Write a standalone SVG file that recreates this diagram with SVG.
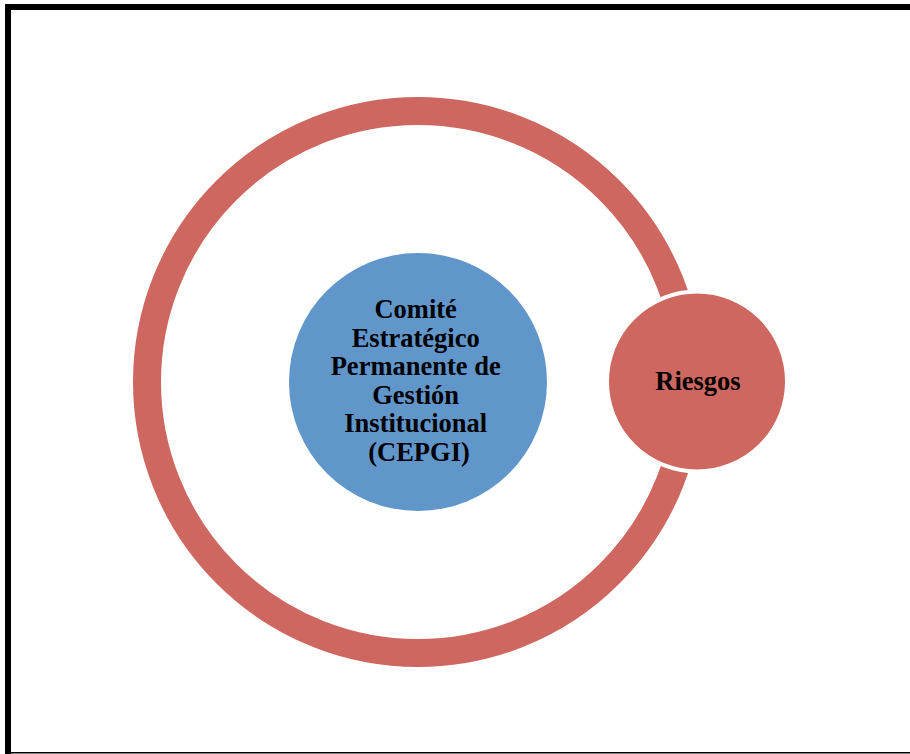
<svg xmlns="http://www.w3.org/2000/svg" width="910" height="754" viewBox="0 0 910 754">
  <style>
    .label { font-family: "Liberation Serif", "Times New Roman", serif; font-weight: bold; font-size: 26.5px; fill: #000; text-anchor: middle; }
  </style>
  <rect x="0" y="0" width="910" height="754" fill="#fff"/>
  <!-- page frame -->
  <g id="frame">
    <rect x="5" y="4" width="905" height="6" fill="#000"/>
    <rect x="5" y="4" width="6" height="750" fill="#000"/>
    <rect x="5" y="752" width="905" height="1.5" fill="#000"/>
  </g>
  <!-- cycle ring -->
  <g id="connectors">
    <circle cx="418" cy="382" r="271" fill="none" stroke="#CD675F" stroke-width="28"/>
  </g>
  <g id="cepgi">
    <circle cx="418" cy="382" r="129" fill="#6096CA"/>
    <text class="label">
      <tspan x="419" y="318">Comité</tspan>
      <tspan x="419" y="346.5">Estratégico</tspan>
      <tspan x="419" y="375">Permanente de</tspan>
      <tspan x="419" y="403.5">Gestión</tspan>
      <tspan x="419" y="432">Institucional</tspan>
      <tspan x="419" y="460.5">(CEPGI)</tspan>
    </text>
  </g>
  <g id="riesgos">
    <circle cx="697" cy="381.5" r="90" fill="#CD675F" stroke="#fff" stroke-width="4"/>
    <text class="label" x="698" y="390">Riesgos</text>
  </g>
</svg>
